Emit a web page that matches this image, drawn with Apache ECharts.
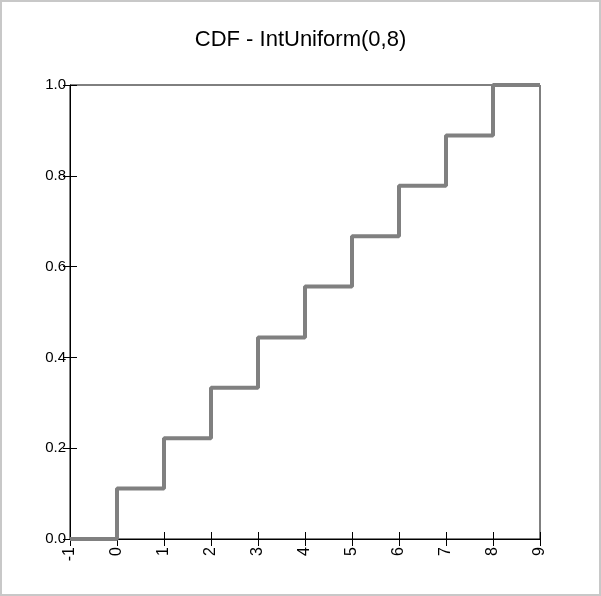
<!DOCTYPE html>
<html><head><meta charset="utf-8">
<script src="https://cdn.jsdelivr.net/npm/echarts@6/dist/echarts.min.js"></script>
<style>
html,body{margin:0;padding:0;background:#fff}
#chart{width:601px;height:596px;box-sizing:border-box;border:2px solid #c8c8c8}
</style></head>
<body><div id="chart"></div>
<script>
let xValues = [-1, 0, 1, 2, 3, 4, 5, 6, 7, 8, 9];
let cdfValues = [0, 0.111, 0.222, 0.333, 0.444, 0.556, 0.667, 0.778, 0.889, 1.0, 1.0];
let chart = echarts.init(document.getElementById('chart'));
let font = 'Arial, Liberation Sans, sans-serif';
let tickStyle = { show: true, length: 7, lineStyle: { color: '#000', width: 1 } };
function xAxisCfg(inside, labels) {
    return {
        type: 'value', min: -1, max: 9, interval: 1, position: 'bottom',
        axisLine: { show: inside, onZero: false, lineStyle: { color: '#000' } },
        axisTick: Object.assign({ inside: inside }, tickStyle),
        splitLine: { show: false },
        axisLabel: { show: labels, rotate: 90, color: '#000', fontSize: 16, fontFamily: font, margin: 8 }
    };
}
function yAxisCfg(inside, labels) {
    return {
        type: 'value', min: 0, max: 1, interval: 0.2, position: 'left',
        axisLine: { show: inside, onZero: false, lineStyle: { color: '#000' } },
        axisTick: Object.assign({ inside: inside }, tickStyle),
        splitLine: { show: false },
        axisLabel: { show: labels, color: '#000', fontSize: 15, fontFamily: font, margin: 4,
            formatter: v => v.toFixed(1) }
    };
}
chart.setOption({
    title: { text: 'CDF - IntUniform(0,8)', left: 'center', top: 22,
        textStyle: { color: '#000', fontSize: 22, fontWeight: 'normal', fontFamily: font } },
    grid: { left: 68, right: 59, top: 83, bottom: 55, show: true, borderColor: '#000', borderWidth: 1 },
    xAxis: [xAxisCfg(true, true), xAxisCfg(false, false)],
    yAxis: [yAxisCfg(true, true), yAxisCfg(false, false)],
    series: [{
        type: 'line', step: 'end', symbol: 'none',
        lineStyle: { color: '#808080', width: 4 },
        data: xValues.map((x, i) => [x, cdfValues[i]])
    }]
});
</script></body></html>
